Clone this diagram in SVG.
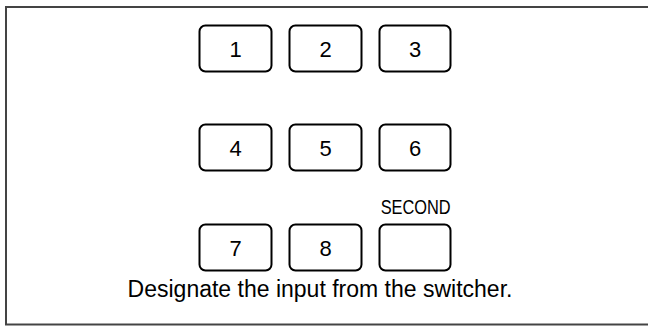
<svg xmlns="http://www.w3.org/2000/svg" width="648" height="327" viewBox="0 0 648 327">
<style>
.key{fill:#fff;stroke:#000;stroke-width:2}
.lbl{font-family:"Liberation Sans",Arial,sans-serif;font-size:22px;fill:#000;text-anchor:middle}
.cap{font-family:"Liberation Sans",Arial,sans-serif;font-size:23px;fill:#000;text-anchor:middle}
.sec{font-family:"Liberation Sans Narrow","Liberation Sans",Arial,sans-serif;font-size:20px;fill:#000;text-anchor:middle}
</style>
<rect x="0" y="0" width="648" height="327" fill="#fff"/>
<rect x="6" y="7" width="660" height="317.5" fill="none" stroke="#444" stroke-width="2"/>
<g id="key1"><rect class="key" x="199.5" y="25.5" width="72" height="46" rx="6"/><text class="lbl" x="235.5" y="56.5">1</text></g>
<g id="key2"><rect class="key" x="289.5" y="25.5" width="72" height="46" rx="6"/><text class="lbl" x="325.5" y="56.5">2</text></g>
<g id="key3"><rect class="key" x="379.5" y="25.5" width="71" height="46" rx="6"/><text class="lbl" x="415" y="56.5">3</text></g>
<g id="key4"><rect class="key" x="199.5" y="124.5" width="72" height="46" rx="6"/><text class="lbl" x="235.5" y="156">4</text></g>
<g id="key5"><rect class="key" x="289.5" y="124.5" width="72" height="46" rx="6"/><text class="lbl" x="325.5" y="156">5</text></g>
<g id="key6"><rect class="key" x="379.5" y="124.5" width="71" height="46" rx="6"/><text class="lbl" x="415" y="156">6</text></g>
<g id="key7"><rect class="key" x="199.5" y="224.5" width="72" height="46" rx="6"/><text class="lbl" x="235.5" y="256">7</text></g>
<g id="key8"><rect class="key" x="289.5" y="224.5" width="72" height="46" rx="6"/><text class="lbl" x="325.5" y="256">8</text></g>
<g id="second"><text class="sec" x="415.7" y="213.5" textLength="70" lengthAdjust="spacingAndGlyphs">SECOND</text><rect class="key" x="379.5" y="224.5" width="71" height="46" rx="6"/></g>
<g id="connectors"></g>
<text class="cap" x="320" y="297">Designate the input from the switcher.</text>
</svg>
